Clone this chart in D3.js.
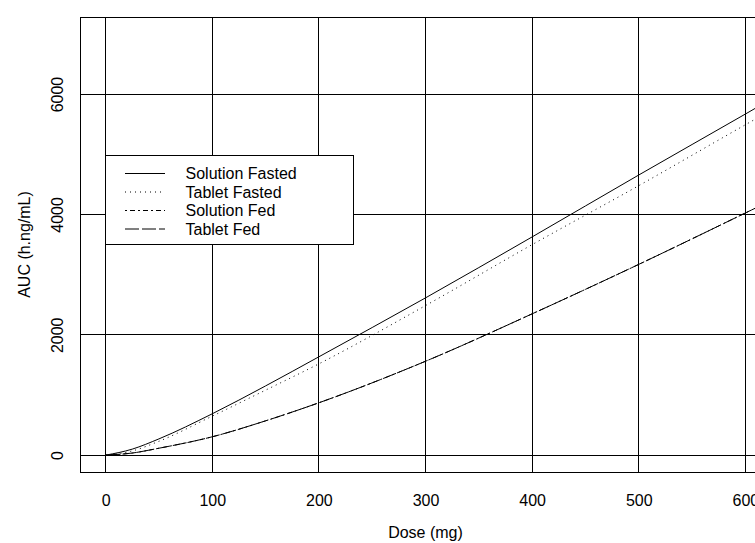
<!DOCTYPE html>
<html>
<head>
<meta charset="utf-8">
<script src="https://cdn.jsdelivr.net/npm/d3@7"></script>
<style>
  body { margin: 0; background: #fff; }
  text { font-family: "Liberation Sans", Arial, sans-serif; fill: #000; }
</style>
</head>
<body>
<div id="chart"></div>
<script>
// dose (mg) and AUC (h.ng/mL)
var doses = [0, 25, 50, 100, 150, 200, 300, 400, 500, 600, 650];
var solutionFasted = [0, 100, 270, 687, 1150, 1634, 2613, 3626, 4655, 5668, 6180];
var tabletFasted = [0, 70, 230, 648, 1080, 1517, 2485, 3498, 4478, 5490, 5990];
var solutionFed = [0, 35, 115, 305, 570, 870, 1560, 2348, 3170, 4024, 4455];
var tabletFed = [0, 35, 115, 305, 570, 870, 1560, 2348, 3170, 4024, 4455];

var seriesNames = ['Solution Fasted', 'Tablet Fasted', 'Solution Fed', 'Tablet Fed'];
var seriesValues = [solutionFasted, tabletFasted, solutionFed, tabletFed];
var dashes = [null, '1,4', '2,3,5,3', '14,3'];

var xTicks = [0, 100, 200, 300, 400, 500, 600];
var yTicks = [0, 2000, 4000, 6000];

var svgWidth = 755;
var svgHeight = 543;

var box = { left: 80, top: 17, right: 771, bottom: 472 };

var svg = d3
  .select('#chart')
  .append('svg')
  .attr('width', svgWidth)
  .attr('height', svgHeight);

var x = d3.scaleLinear().domain([-24, 624]).range([box.left, box.right]);
var y = d3.scaleLinear().domain([-280, 7280]).range([box.bottom, box.top]);

svg
  .append('defs')
  .append('clipPath')
  .attr('id', 'plotclip')
  .append('rect')
  .attr('x', box.left)
  .attr('y', box.top)
  .attr('width', box.right - box.left)
  .attr('height', box.bottom - box.top);

// grid
var grid = svg.append('g').attr('shape-rendering', 'crispEdges');
grid
  .selectAll('.vgrid')
  .data(xTicks)
  .enter()
  .append('line')
  .attr('x1', (d) => x(d))
  .attr('x2', (d) => x(d))
  .attr('y1', box.top)
  .attr('y2', box.bottom)
  .attr('stroke', '#000');
grid
  .selectAll('.hgrid')
  .data(yTicks)
  .enter()
  .append('line')
  .attr('x1', box.left)
  .attr('x2', box.right)
  .attr('y1', (d) => y(d))
  .attr('y2', (d) => y(d))
  .attr('stroke', '#000');

// curves
var line = d3
  .line()
  .x((d, i) => x(doses[i]))
  .y((d) => y(d))
  .curve(d3.curveMonotoneX);

var curves = svg.append('g').attr('clip-path', 'url(#plotclip)');
seriesValues.forEach(function (vals, i) {
  curves
    .append('path')
    .attr('d', line(vals))
    .attr('fill', 'none')
    .attr('stroke', '#000')
    .attr('stroke-width', 1)
    .attr('stroke-dasharray', dashes[i]);
});

// plot box
svg
  .append('rect')
  .attr('x', box.left + 0.5)
  .attr('y', box.top + 0.5)
  .attr('width', box.right - box.left)
  .attr('height', box.bottom - box.top)
  .attr('fill', 'none')
  .attr('stroke', '#000');

// x axis labels
var xAxis = d3.axisBottom(x).tickValues(xTicks).tickSize(0).tickPadding(0).tickFormat(d3.format('d'));
var xg = svg.append('g').attr('transform', 'translate(0,' + box.bottom + ')').call(xAxis);
xg.select('.domain').remove();
xg.selectAll('text')
  .attr('dy', null)
  .attr('y', 34)
  .attr('font-size', 16)
  .attr('font-family', '"Liberation Sans", Arial, sans-serif')
  .attr('fill', '#000');

// y axis labels (rotated, R style)
var yAxis = d3.axisLeft(y).tickValues(yTicks).tickSize(0).tickPadding(0).tickFormat(d3.format('d'));
var yg = svg.append('g').attr('transform', 'translate(' + box.left + ',0)').call(yAxis);
yg.select('.domain').remove();
yg.selectAll('.tick text')
  .attr('x', null)
  .attr('dy', null)
  .attr('transform', 'translate(-17,0) rotate(-90)')
  .attr('text-anchor', 'middle')
  .attr('font-size', 16)
  .attr('font-family', '"Liberation Sans", Arial, sans-serif')
  .attr('fill', '#000');

// axis titles
svg
  .append('text')
  .attr('x', (box.left + box.right) / 2)
  .attr('y', 538)
  .attr('text-anchor', 'middle')
  .attr('font-size', 16)
  .text('Dose (mg)');

svg
  .append('text')
  .attr('transform', 'translate(30,' + (box.top + box.bottom) / 2 + ') rotate(-90)')
  .attr('text-anchor', 'middle')
  .attr('font-size', 16)
  .text('AUC (h.ng/mL)');

// legend
var legend = svg.append('g');
legend
  .append('rect')
  .attr('x', 105.5)
  .attr('y', 155.5)
  .attr('width', 248)
  .attr('height', 89)
  .attr('fill', '#fff')
  .attr('stroke', '#000');

var rowY = [173.5, 192, 210.5, 229];
seriesNames.forEach(function (name, i) {
  legend
    .append('line')
    .attr('x1', 125)
    .attr('x2', 165)
    .attr('y1', rowY[i])
    .attr('y2', rowY[i])
    .attr('stroke', '#000')
    .attr('stroke-dasharray', dashes[i]);
  legend
    .append('text')
    .attr('x', 185.5)
    .attr('y', rowY[i])
    .attr('dy', '0.36em')
    .attr('font-size', 16)
    .text(name);
});
</script>
</body>
</html>
